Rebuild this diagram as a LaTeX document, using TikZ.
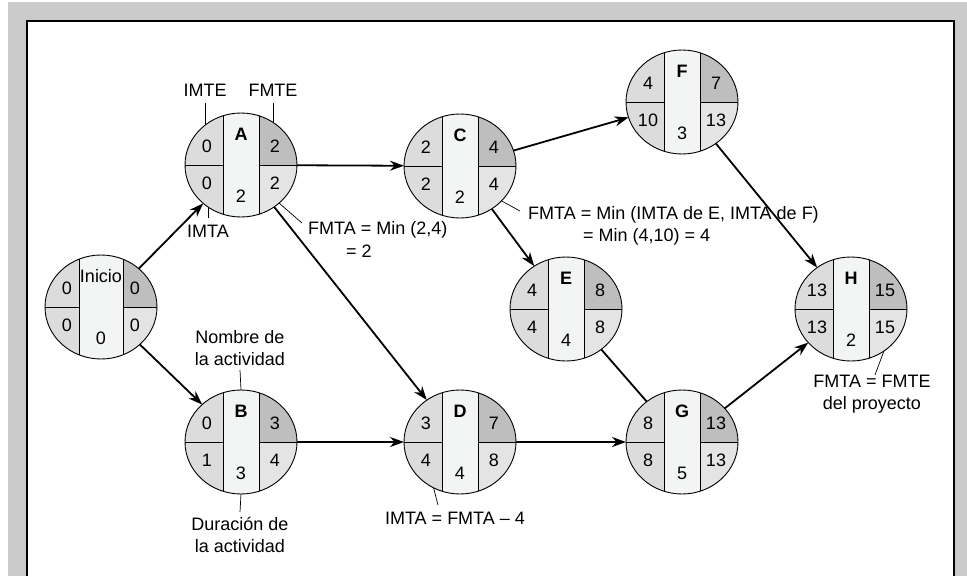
\documentclass[tikz,border=0pt]{standalone}
\usepackage{fontspec}
\setmainfont{Liberation Sans}
\usetikzlibrary{shapes.geometric,arrows.meta}
\definecolor{framegrey}{HTML}{CBCBCB}
\definecolor{cellleft}{HTML}{DCDCDC}
\definecolor{celltopright}{HTML}{BEBEBE}
\definecolor{cellbotright}{HTML}{E4E4E4}
\definecolor{cellstrip}{HTML}{F3F4F4}
\tikzset{
  actbox/.style={ellipse, minimum width=112pt, minimum height=104pt, inner sep=0pt, outer sep=0pt},
  arr/.style={line width=1.8pt, -{Stealth[length=14pt,width=10pt]}},
  conn/.style={line width=1.8pt},
  ptr/.style={line width=0.7pt},
  lbl/.style={inner sep=0pt, font=\fontsize{18}{21}\selectfont},
  twoline/.style={lbl, align=center, font=\fontsize{18}{22}\selectfont},
}
% \actnode[half strip width]{name}{(x,y)}{activity}{IMTE}{FMTE}{IMTA}{FMTA}{duration}
\newcommand\actnode[9][18]{%
  \node[actbox] (#2) at #3 {};
  \begin{scope}[shift={#3}]
    \begin{scope}
      \clip (0,0) ellipse [x radius=56pt, y radius=52pt];
      \fill[cellleft] (-60,-60) rectangle (0,60);
      \fill[celltopright] (0,-60) rectangle (60,0);
      \fill[cellbotright] (0,0) rectangle (60,60);
      \fill[cellstrip] (-#1,-60) rectangle (#1,60);
      \draw[line width=0.9pt] (-60,0) -- (-#1,0) (#1,0) -- (60,0);
      \draw[line width=0.9pt] (-#1,-60) -- (-#1,60) (#1,-60) -- (#1,60);
    \end{scope}
    \draw[line width=0.9pt] (0,0) ellipse [x radius=56pt, y radius=52pt];
    \node[lbl] at (0,-31) {#4};
    \node[lbl] at (-34,-19) {#5};
    \node[lbl] at (34,-19) {#6};
    \node[lbl] at (-34,18) {#7};
    \node[lbl] at (34,18) {#8};
    \node[lbl] at (0,31) {#9};
  \end{scope}}
\begin{document}
\begin{tikzpicture}[x=1pt, y=-1pt]
  \useasboundingbox (0,0) rectangle (967,576);
  % frame
  \fill[framegrey] (8,2) rectangle (967,576);
  \fill[white] (27,21) rectangle (954,576);
  \draw[line width=1.2pt] (27,576) -- (27,21) -- (954,21) -- (954,576);

  % activities
  \actnode[22]{ini}{(101,307)}{Inicio}{0}{0}{0}{0}{0}
  \actnode{A}{(241,165)}{\textbf{A}}{0}{2}{0}{2}{2}
  \actnode{B}{(241,442)}{\textbf{B}}{0}{3}{1}{4}{3}
  \actnode{C}{(460,166)}{\textbf{C}}{2}{4}{2}{4}{2}
  \actnode{D}{(460,442)}{\textbf{D}}{3}{7}{4}{8}{4}
  \actnode{E}{(566,309)}{\textbf{E}}{4}{8}{4}{8}{4}
  \actnode{F}{(682,102)}{\textbf{F}}{4}{7}{10}{13}{3}
  \actnode{G}{(682,442)}{\textbf{G}}{8}{13}{8}{13}{5}
  \actnode{H}{(851,309)}{\textbf{H}}{13}{15}{13}{15}{2}

  % precedence arrows
  \draw[arr] (ini) -- (A);
  \draw[arr] (ini) -- (B);
  \draw[arr] (A) -- (C);
  \draw[arr] (A) -- (D);
  \draw[arr] (B) -- (D);
  \draw[arr] (C) -- (F);
  \draw[arr] (C) -- (E);
  \draw[arr] (D) -- (G);
  \draw[conn] (E) -- (G);
  \draw[arr] (F) -- (H);
  \draw[arr] (G) -- (H);

  % annotations
  \node[lbl] (imte) at (205,90) {IMTE};
  \draw[ptr] (205,103) -- (205,125);
  \node[lbl] (fmte) at (273,90) {FMTE};
  \draw[ptr] (273,103) -- (273,122);
  \node[lbl] (imta) at (208,231) {IMTA};
  \draw[ptr] (208,207) -- (208,218);

  \node[lbl, anchor=west] (fa1) at (308,230) {FMTA = Min (2,4)};
  \node[lbl, anchor=west] (fa2) at (346,251) {= 2};
  \draw[ptr] (A.315) -- (302,223);

  \node[lbl, anchor=west] (fc1) at (528,215) {FMTA = Min (IMTA de E, IMTA de F)};
  \node[lbl, anchor=west] (fc2) at (583,237) {= Min (4,10) = 4};
  \draw[ptr] (C.320) -- (520,211);

  \node[twoline] (fh) at (872,394) {FMTA = FMTE\\del proyecto};
  \draw[ptr] (H.308) -- (875,375);

  \node[twoline] (nom) at (240,348) {Nombre de\\la actividad};
  \draw[ptr] (240,370) -- (B.90);
  \node[twoline] (dur) at (240,535) {Duración de\\la actividad};
  \draw[ptr] (B.270) -- (240,512);

  \node[lbl] (imtad) at (455,518) {IMTA = FMTA – 4};
  \draw[ptr] (D.240) -- (438,505);
\end{tikzpicture}
\end{document}
